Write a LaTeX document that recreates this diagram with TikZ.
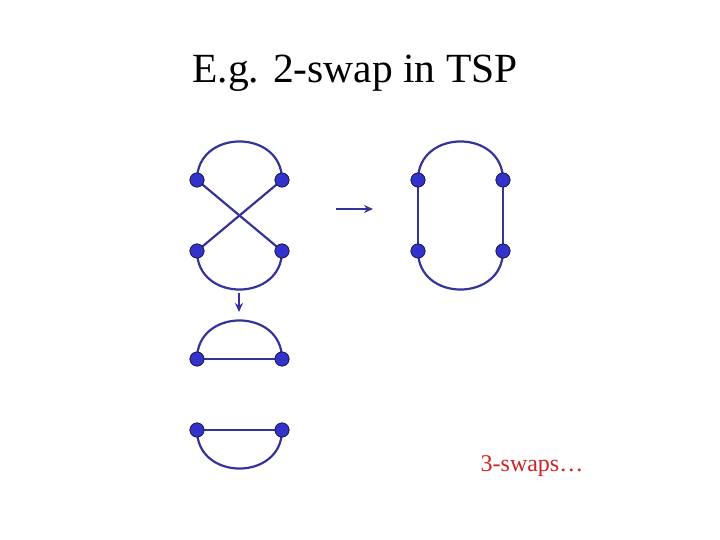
\documentclass[tikz,border=0pt]{standalone}
\usepackage{fontspec}
\setmainfont{Liberation Serif}
\usetikzlibrary{arrows.meta}
\definecolor{edgeblue}{RGB}{51,51,153}
\definecolor{dotblue}{RGB}{51,51,204}
\definecolor{swapred}{RGB}{204,34,34}
\tikzstyle{city} = [circle, inner sep=0pt, minimum size=14pt, draw=edgeblue!60!black, fill=dotblue, line width=0.8pt]
\tikzstyle{edge} = [draw=edgeblue, line width=2.2pt]
\tikzstyle{arrow} = [draw=edgeblue, line width=2pt, -{Stealth[length=9pt, width=8pt]}]

\begin{document}
\begin{tikzpicture}[x=1pt, y=-1pt]
\useasboundingbox (0,0) rectangle (720,540);

\node [anchor=base, font=\fontsize{41.5}{48}\selectfont] (title) at (355,83) {E.g. 2-swap in TSP};

% crossed tour
\node [city] (a1) at (197,180) {};
\node [city] (b1) at (282,180) {};
\node [city] (c1) at (197,251) {};
\node [city] (d1) at (282,251) {};
% swapped tour
\node [city] (a2) at (418,180) {};
\node [city] (b2) at (503,180) {};
\node [city] (c2) at (418,251) {};
\node [city] (d2) at (503,251) {};
% wrong swap
\node [city] (a3) at (197,359) {};
\node [city] (b3) at (282,359) {};
\node [city] (c3) at (197,430) {};
\node [city] (d3) at (282,430) {};

\node [anchor=base, text=swapred, font=\fontsize{24}{28}\selectfont] (more) at (532,471) {3-swaps\ldots};

\draw [edge] (a1.center) to[out=90, in=90, looseness=1.55] (b1.center);
\draw [edge] (c1.center) to[out=-90, in=-90, looseness=1.55] (d1.center);
\draw [edge] (a1.center) -- (d1.center);
\draw [edge] (b1.center) -- (c1.center);

\draw [edge] (a2.center) to[out=90, in=90, looseness=1.55] (b2.center);
\draw [edge] (c2.center) to[out=-90, in=-90, looseness=1.55] (d2.center);
\draw [edge] (a2.center) -- (c2.center);
\draw [edge] (b2.center) -- (d2.center);

\draw [edge] (a3.center) to[out=90, in=90, looseness=1.55] (b3.center);
\draw [edge] (c3.center) to[out=-90, in=-90, looseness=1.55] (d3.center);
\draw [edge] (a3.center) -- (b3.center);
\draw [edge] (c3.center) -- (d3.center);

% redraw the cities on top
\foreach \n in {a1,b1,c1,d1,a2,b2,c2,d2,a3,b3,c3,d3}
  \node [city] at (\n) {};

\coordinate (swapfrom) at (336,209);
\coordinate (swapto) at (373,209);
\coordinate (downfrom) at (239,293);
\coordinate (downto) at (239,312);
\draw [arrow] (swapfrom) -- (swapto);
\draw [arrow] (downfrom) -- (downto);

\end{tikzpicture}
\end{document}
